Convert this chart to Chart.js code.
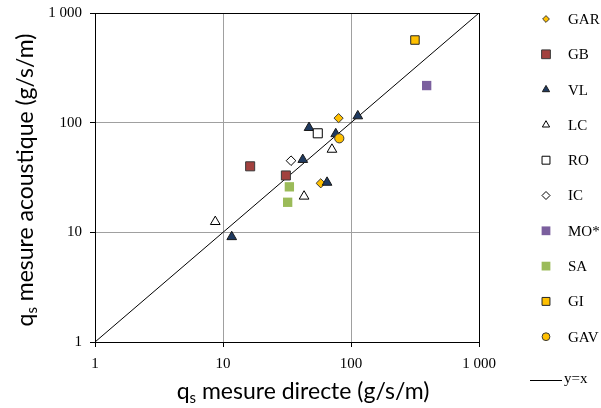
<!DOCTYPE html>
<html>
<head>
<meta charset="utf-8">
<script src="https://cdn.jsdelivr.net/npm/chart.js@4.4.1/dist/chart.umd.min.js"></script>
<style>
  body { margin: 0; background: #fff; }
  #wrap { width: 601px; height: 408px; }
</style>
</head>
<body>
<div id="wrap"><canvas id="chart" width="601" height="408"></canvas></div>
<script>
const tickValues = [1, 10, 100, 1000];
const tickLabels = ["1", "10", "100", "1 000"];

const seriesNames = ["GAR", "GB", "VL", "LC", "RO", "IC", "MO*", "SA", "GI", "GAV"];
const garX = [80, 58];      const garY = [110, 28];
const gbX = [16.3, 31];     const gbY = [40, 33];
const vlX = [113, 47, 76, 42, 65, 11.7];
const vlY = [115, 90, 79, 46, 28.5, 9.1];
const lcX = [71, 43, 8.7];  const lcY = [57, 21.3, 12.5];
const roX = [55];           const roY = [80];
const icX = [34];           const icY = [45];
const moX = [390];          const moY = [218];
const saX = [33, 32];       const saY = [26, 18.8];
const giX = [316];          const giY = [567];
const gavX = [81];          const gavY = [72];
const lineX = [1, 1000];    const lineY = [1, 1000];

const seriesX = [garX, gbX, vlX, lcX, roX, icX, moX, saX, giX, gavX];
const seriesY = [garY, gbY, vlY, lcY, roY, icY, moY, saY, giY, gavY];

// marker look for each series (r = plot radius, lr = legend radius)
const styles = [
  { shape: "rectRot",  r: 4.6, lr: 3.4, fill: "#ffc000", line: "#3a3a3a", bw: 1 },
  { shape: "rect",     r: 6.4, lr: 6.2, fill: "#a2413e", line: "#3a3a3a", bw: 1 },
  { shape: "triangle", r: 5.6, lr: 4.2, fill: "#1f3a60", line: "#1a1a1a", bw: 1 },
  { shape: "triangle", r: 5.6, lr: 4.2, fill: "#ffffff", line: "#000000", bw: 1 },
  { shape: "rect",     r: 6.4, lr: 5.6, fill: "#ffffff", line: "#000000", bw: 1 },
  { shape: "rectRot",  r: 4.8, lr: 4.0, fill: "#ffffff", line: "#000000", bw: 1 },
  { shape: "rect",     r: 6.6, lr: 6.2, fill: "#7b5f9e", line: "#7b5f9e", bw: 0 },
  { shape: "rect",     r: 6.6, lr: 6.2, fill: "#9bbb59", line: "#9bbb59", bw: 0 },
  { shape: "rect",     r: 6.0, lr: 5.6, fill: "#ffc000", line: "#262626", bw: 1 },
  { shape: "circle",   r: 4.6, lr: 3.9, fill: "#ffc000", line: "#3a3a3a", bw: 1 },
];

const datasets = seriesNames.map((name, i) => ({
  type: "scatter",
  label: name,
  data: seriesX[i].map((x, j) => ({ x: x, y: seriesY[i][j] })),
  pointStyle: styles[i].shape,
  pointRadius: styles[i].r,
  pointHoverRadius: styles[i].r,
  backgroundColor: styles[i].fill,
  borderColor: styles[i].line,
  borderWidth: styles[i].bw,
  order: 10 - i,
}));
datasets.push({
  type: "line",
  label: "y=x",
  data: lineX.map((x, j) => ({ x: x, y: lineY[j] })),
  borderColor: "#000",
  borderWidth: 1,
  pointRadius: 0,
  order: 11,
});

function drawQs(ctx, rest, cx, cy, rot) {
  const big = "23px Lato", small = "15px Lato";
  ctx.font = big;
  const wq = ctx.measureText("q").width;
  const wr = ctx.measureText(" " + rest).width;
  ctx.font = small;
  const ws = ctx.measureText("s").width;
  const total = wq + ws + wr;
  ctx.save();
  ctx.translate(cx, cy);
  ctx.rotate(rot);
  ctx.fillStyle = "#000";
  ctx.textAlign = "left";
  ctx.textBaseline = "alphabetic";
  let x = -total / 2;
  ctx.font = big;
  ctx.fillText("q", x, 8);
  x += wq;
  ctx.font = small;
  ctx.fillText("s", x, 12);
  x += ws;
  ctx.font = big;
  ctx.fillText(" " + rest, x, 8);
  ctx.restore();
}

const overlay = {
  id: "overlay",
  afterDraw(chart) {
    const ctx = chart.ctx;
    drawQs(ctx, "mesure directe (g/s/m)", 303, 391, 0);
    drawQs(ctx, "mesure acoustique (g/s/m)", 25, 180, -Math.PI / 2);

    // legend on the right
    ctx.save();
    ctx.font = "15px 'Liberation Serif'";
    ctx.textBaseline = "middle";
    ctx.textAlign = "left";
    seriesNames.forEach((name, i) => {
      const y = 19 + i * 35.3;
      const s = styles[i];
      ctx.fillStyle = s.fill;
      ctx.strokeStyle = s.line;
      ctx.lineWidth = s.bw;
      Chart.helpers.drawPoint(ctx, { pointStyle: s.shape, radius: s.lr, rotation: 0, borderWidth: s.bw }, 546, y);
      ctx.fillStyle = "#000";
      ctx.fillText(name, 568, y + 1);
    });
    ctx.strokeStyle = "#000";
    ctx.lineWidth = 1;
    ctx.beginPath();
    ctx.moveTo(530, 380.5);
    ctx.lineTo(562, 380.5);
    ctx.stroke();
    ctx.fillStyle = "#000";
    ctx.fillText("y=x", 564, 379);
    ctx.restore();
  },
};

function axis(fitSide, fitSize, lineHeight) {
  return {
    type: "logarithmic",
    min: 1,
    max: 1000,
    afterBuildTicks: (s) => { s.ticks = tickValues.map((v) => ({ value: v })); },
    afterFit: (s) => { s[fitSide] = fitSize; },
    ticks: {
      callback: (v, i) => tickLabels[i],
      font: { family: "'Liberation Serif'", size: 15, lineHeight: lineHeight },
      color: "#000",
      padding: 8,
      autoSkip: false,
      maxRotation: 0,
    },
    grid: {
      color: (c) => (c.index === 3 ? "#000" : "#a0a0a0"),
      tickColor: "#000",
      tickLength: 5,
      lineWidth: 1,
    },
    border: { color: "#000", width: 1 },
  };
}

new Chart(document.getElementById("chart"), {
  type: "scatter",
  data: { datasets: datasets },
  options: {
    responsive: false,
    animation: false,
    layout: { padding: { left: 0, top: 13, right: 122, bottom: 0 } },
    plugins: { legend: { display: false }, tooltip: { enabled: false } },
    scales: {
      x: axis("height", 66, 1.2),
      y: axis("width", 95, 0.2),
    },
  },
  plugins: [overlay],
});
</script>
</body>
</html>
